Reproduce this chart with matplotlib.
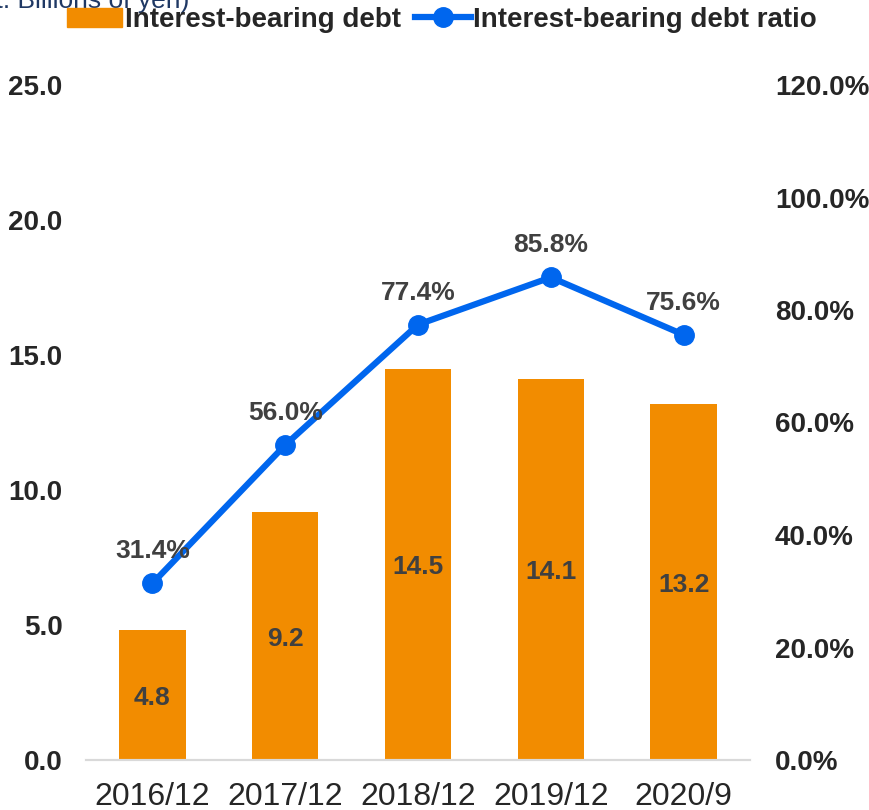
import matplotlib
matplotlib.use("Agg")
import matplotlib.pyplot as plt
from matplotlib.lines import Line2D
from matplotlib.patches import Patch

plt.rcParams['font.family'] = ['Liberation Sans', 'DejaVu Sans']

# Data
periods = ["2016/12", "2017/12", "2018/12", "2019/12", "2020/9"]
debt = [4.8, 9.2, 14.5, 14.1, 13.2]          # billions of yen
debt_ratio = [31.4, 56.0, 77.4, 85.8, 75.6]  # percent
left_ticks = [0, 5, 10, 15, 20, 25]
right_ticks = [0, 20, 40, 60, 80, 100, 120]

bar_color = "#F28C00"
line_color = "#0066EE"
label_color = "#404040"

fig = plt.figure(figsize=(8.69, 8.10), dpi=100)
ax = fig.add_axes([86 / 869, 50 / 810, 664 / 869, 675 / 810])
ax2 = ax.twinx()

x = list(range(len(periods)))
ax.bar(x, debt, width=0.5, color=bar_color, zorder=2)
for xi, v in zip(x, debt):
    ax.annotate(f"{v:.1f}", (xi, v / 2), xytext=(0, -2), textcoords="offset points",
                ha="center", va="center", fontsize=19, fontweight="bold",
                color=label_color)

ax2.plot(x, debt_ratio, color=line_color, lw=4.5, marker="o", ms=14,
         solid_capstyle="round", zorder=3)
for xi, v in zip(x, debt_ratio):
    ax2.annotate(f"{v:.1f}%", (xi, v), xytext=(0, 23), textcoords="offset points",
                 ha="center", va="center", fontsize=19, fontweight="bold",
                 color=label_color)

ax.set_xlim(-0.5, len(periods) - 0.5)
ax.set_ylim(0, 25)
ax2.set_ylim(0, 120)
ax.set_yticks(left_ticks)
ax.set_yticklabels([f"{t:.1f}" for t in left_ticks], fontsize=20,
                   fontweight="bold", color="#262626")
ax2.set_yticks(right_ticks)
ax2.set_yticklabels([f"{t:.1f}%" for t in right_ticks], fontsize=20,
                    fontweight="bold", color="#262626")
ax.set_xticks(x)
ax.set_xticklabels(periods, fontsize=23, color="#262626")

for a in (ax, ax2):
    for s in ("top", "left", "right"):
        a.spines[s].set_visible(False)
    a.spines["bottom"].set_color("#D9D9D9")
    a.spines["bottom"].set_linewidth(1.5)
    a.tick_params(length=0)
ax.tick_params(axis="y", pad=17)
ax2.tick_params(axis="y", pad=18)
ax.tick_params(axis="x", pad=16)

handles = [Patch(color=bar_color),
           Line2D([0], [0], color=line_color, lw=4.5, marker="o", ms=14)]
fig.legend(handles, ["Interest-bearing debt", "Interest-bearing debt ratio"],
           loc="center", bbox_to_anchor=(442 / 869, 1 - 20 / 810), ncol=2,
           frameon=False, prop={"size": 20, "weight": "bold"},
           handlelength=2.0, handletextpad=0.1, columnspacing=0.5,
           labelcolor="#262626")

fig.text(189 / 869, 1 - 8 / 810, "(Unit: Billions of yen)", ha="right",
         va="baseline", fontsize=19, color="#1F3864")

fig.savefig("out.png", dpi=100)
